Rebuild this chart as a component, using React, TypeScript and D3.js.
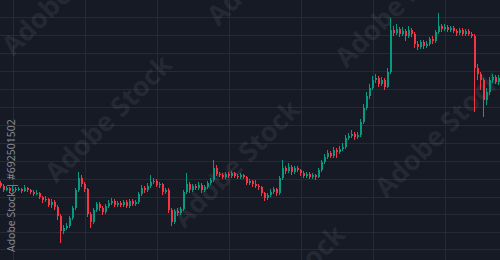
import React from 'react';
import * as d3 from 'd3';

// OHLC (arbitrary price units)
const opens = [77,74,70,72,69,71,70,71,69,72,70,68,66,67,63,60,61,55,58,53,44,29,32,34,42,52,70,82,76,71,46,38,50,56,52,48,54,57,59,55,57,55,58,54,59,56,58,66,72,70,74,78,79,75,76,68,70,50,38,49,47,51,68,76,70,74,72,75,70,73,77,80,92,86,85,83,86,84,87,84,83,85,83,77,79,76,74,73,67,62,65,68,71,67,82,92,89,93,88,92,90,87,84,86,83,85,83,90,98,103,107,104,110,108,111,113,122,124,126,123,125,138,152,164,172,180,182,176,180,173,188,230,227,231,226,229,224,230,226,216,213,218,214,216,221,219,228,234,231,233,230,232,229,227,230,226,229,226,224,192,186,180,160,168,180,183,178];
const closes = [74,70,72,69,71,70,71,69,72,70,68,66,67,63,60,61,55,58,53,44,29,32,34,42,52,70,82,76,71,46,38,50,56,52,48,54,57,59,55,57,55,58,54,59,56,58,66,72,70,74,78,79,75,76,68,70,50,38,49,47,51,68,76,70,74,72,75,70,73,77,80,92,86,85,83,86,84,87,84,83,85,83,77,79,76,74,73,67,62,65,68,71,67,82,92,89,93,88,92,90,87,84,86,83,85,83,90,98,103,107,104,110,108,111,113,122,124,126,123,125,138,152,164,172,180,182,176,180,173,188,230,227,231,226,229,224,230,226,216,213,218,214,216,221,219,228,234,231,233,230,232,229,227,230,226,229,226,224,192,186,180,160,168,180,183,178,182];
const highs = [79,76,74,73,74,73,73,72,75,73,71,70,70,68,64,64,62,61,60,55,46,35,37,44,54,72,88,85,78,72,48,52,58,58,54,56,60,62,61,59,59,60,60,61,61,60,68,75,74,77,85,82,81,78,77,72,72,52,51,52,53,70,87,78,76,76,78,77,75,79,82,100,95,88,87,88,88,89,88,86,87,86,84,81,80,80,76,74,68,67,71,73,72,84,100,94,97,95,94,94,91,89,88,88,87,86,92,100,106,110,109,113,112,114,117,125,127,130,128,128,141,156,168,176,184,186,184,183,182,192,242,234,236,233,233,231,234,232,228,219,220,220,219,223,224,230,247,236,236,235,234,234,231,232,232,231,231,228,226,196,188,182,172,183,186,185,185];
const lows = [72,68,69,67,68,68,69,67,68,68,66,64,65,61,57,58,53,52,50,40,17,26,30,32,40,50,68,73,68,43,32,36,48,49,45,46,52,55,53,53,53,53,52,52,54,54,56,64,67,68,72,76,73,72,65,66,47,34,36,44,45,49,66,67,68,70,70,67,68,71,75,78,84,83,81,81,82,82,82,81,81,81,75,75,73,72,70,64,59,60,63,66,64,65,80,86,87,85,86,88,84,82,82,81,81,80,82,88,96,101,102,102,102,106,109,111,120,122,120,121,123,136,150,161,170,177,173,174,170,172,186,224,225,223,224,219,222,223,212,210,211,211,212,214,216,217,226,228,229,228,228,227,224,225,224,224,224,222,148,180,170,143,155,165,177,176,175];

// grid levels (price units) and time grid (candle index)
const priceGrid = [243, 225, 207, 189, 171, 153, 135, 117, 99, 81, 63, 46, 28, 11];
const timeGrid = [4, 28, 52, 76, 100, 124, 148];

const watermarkText = 'Adobe Stock';
const watermarkCenters: [number, number][] = [
  [67, -7], [110, 120], [272, -37], [238, 165], [400, 5], [440, 135], [283, 290],
];
const stockId = 'Adobe Stock | #692501502';

const UP = '#089981';
const DOWN = '#f23645';

export default function App() {
  if (typeof document !== 'undefined') document.body.style.margin = '0';
  const W = 500, H = 260;
  const x = d3.scaleLinear().domain([0, closes.length - 1]).range([1, 499]);
  const y = d3.scaleLinear().domain([0, 260]).range([260, 0]);

  return (
    <div style={{ position: 'absolute', left: 0, top: 0, width: W, height: H }}>
      <svg width={W} height={H} style={{ display: 'block' }}>
        <rect x={0} y={0} width={W} height={H} fill="#161a25" />
        <g shapeRendering="crispEdges">
          {priceGrid.map((p) => (
            <line key={'h' + p} x1={0} x2={W} y1={Math.round(y(p)) + 0.5} y2={Math.round(y(p)) + 0.5} stroke="#262a37" strokeWidth={1} />
          ))}
          {timeGrid.map((t) => (
            <line key={'v' + t} y1={0} y2={H} x1={Math.round(x(t)) + 0.5} x2={Math.round(x(t)) + 0.5} stroke="#262a37" strokeWidth={1} />
          ))}
        </g>
        <g fontFamily="'Open Sans', 'DejaVu Sans', sans-serif" fontWeight={700} fontSize={27} fill="#ffffff" fillOpacity={0.08}>
          {watermarkCenters.map(([cx, cy], k) => (
            <text key={k} x={cx} y={cy} textAnchor="middle" dominantBaseline="middle" transform={`rotate(-45 ${cx} ${cy})`}>
              {watermarkText}
            </text>
          ))}
        </g>
        <g shapeRendering="crispEdges">
          {closes.map((c, i) => {
            const o = opens[i];
            const col = c >= o ? UP : DOWN;
            const cx = x(i);
            const top = y(Math.max(o, c));
            const bh = Math.max(1, Math.abs(y(o) - y(c)));
            return (
              <g key={i}>
                <rect x={cx - 1} width={1} y={y(highs[i])} height={y(lows[i]) - y(highs[i])} fill={col} />
                <rect x={cx - 1} width={2} y={top} height={bh} fill={col} />
              </g>
            );
          })}
        </g>
        <text
          x={15}
          y={252}
          transform="rotate(-90 15 252)"
          fontFamily="'Open Sans', 'DejaVu Sans', sans-serif"
          fontSize={10.5}
          fill="#b4b6bc"
          fillOpacity={0.75}
        >
          {stockId}
        </text>
      </svg>
    </div>
  );
}
